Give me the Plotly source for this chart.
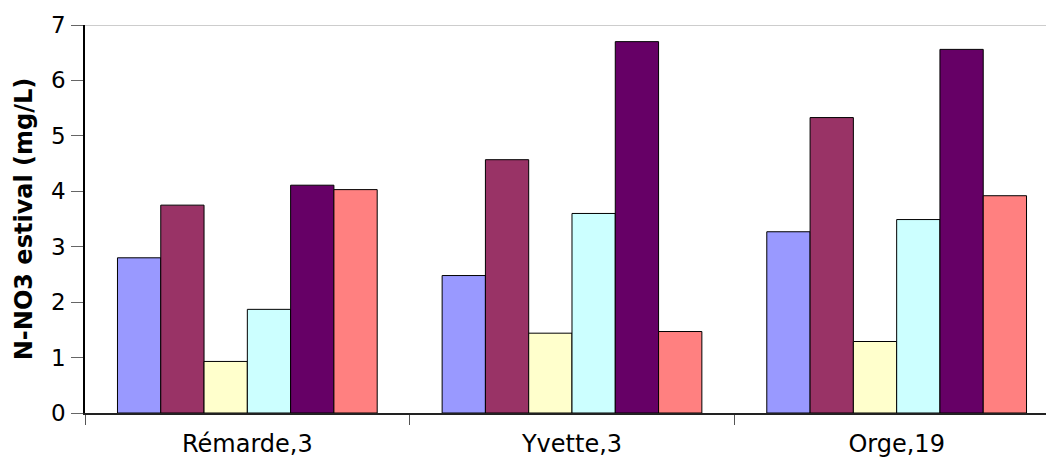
import plotly.graph_objects as go

# Sites along the x axis
sites = ["Rémarde,3", "Yvette,3", "Orge,19"]

# Summer nitrate (N-NO3, mg/L), one list per series
serie_1 = [2.80, 2.48, 3.27]
serie_2 = [3.75, 4.57, 5.33]
serie_3 = [0.93, 1.44, 1.29]
serie_4 = [1.87, 3.60, 3.49]
serie_5 = [4.11, 6.70, 6.56]
serie_6 = [4.03, 1.47, 3.92]

series = [serie_1, serie_2, serie_3, serie_4, serie_5, serie_6]
series_names = ["Série 1", "Série 2", "Série 3", "Série 4", "Série 5", "Série 6"]
colors = ["#9999FF", "#993366", "#FFFFCC", "#CCFFFF", "#660066", "#FF8080"]

y_ticks = [0, 1, 2, 3, 4, 5, 6, 7]

FONT = "DejaVu Sans, Verdana, sans-serif"

fig = go.Figure()
for name, vals, col in zip(series_names, series, colors):
    fig.add_trace(go.Bar(
        x=sites, y=vals, name=name,
        marker=dict(color=col, line=dict(color="#000000", width=1)),
    ))

# light grey frame line along the top of the plot area
fig.add_shape(type="line", xref="paper", yref="y", x0=0, x1=1, y0=7, y1=7,
              line=dict(color="#BDBDBD", width=1.5), layer="below")

fig.update_layout(
    width=1046, height=459,
    margin=dict(l=85, r=0, t=25, b=46),
    paper_bgcolor="white", plot_bgcolor="white",
    barmode="group", bargap=0.2, bargroupgap=0,
    showlegend=False,
    font=dict(family=FONT, color="#000000"),
)

fig.update_xaxes(
    type="category",
    range=[-0.5, 2.46],
    showline=True, linecolor="#222222", linewidth=1.5,
    ticks="outside", tickson="boundaries", ticklen=10, tickcolor="#555555", tickwidth=1,
    tickfont=dict(size=24, family=FONT, color="#000000"),
    ticklabelstandoff=8,
    showgrid=False, zeroline=False, automargin=False,
)

fig.update_yaxes(
    range=[0, 7], tickvals=y_ticks, ticktext=[str(v) for v in y_ticks],
    showline=True, linecolor="#000000", linewidth=1.5,
    ticks="outside", ticklen=12, tickcolor="#666666", tickwidth=1,
    tickfont=dict(size=23, family=FONT, color="#000000"),
    ticklabelstandoff=1,
    showgrid=False, zeroline=False, automargin=False,
    title=dict(text="<b>N-NO3 estival (mg/L)</b>",
               font=dict(size=24, family=FONT, color="#000000"),
               standoff=12),
)

fig.write_html("out.html")
